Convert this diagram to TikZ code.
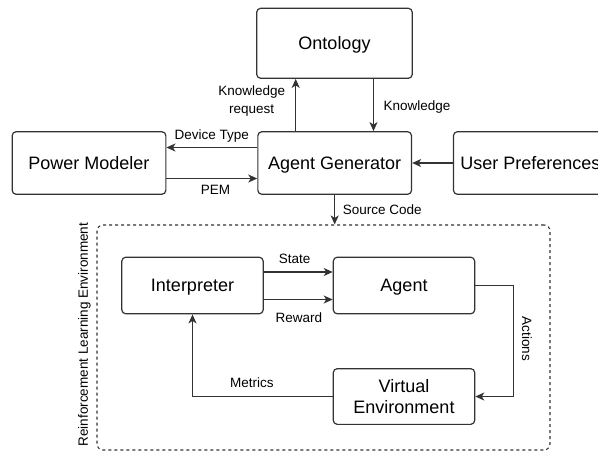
\documentclass[tikz,border=0pt]{standalone}
\usepackage{fontspec}
\setmainfont{Liberation Sans}
\usetikzlibrary{arrows.meta,calc}
\definecolor{linec}{HTML}{333333}
\begin{document}
\begin{tikzpicture}[x=1pt,y=-1pt,
  box/.style={draw=linec, line width=1.2pt, rounded corners=4pt, inner sep=0pt,
    font=\fontsize{18}{21.6}\selectfont, align=center, text=black},
  one/.style={text height=12.9pt, text depth=0pt},
  bigw/.style={minimum width=153.7pt, minimum height=62.6pt},
  smw/.style={minimum width=141.4pt, minimum height=56.6pt},
  lbl/.style={inner sep=0pt, font=\fontsize{13.5}{17.6}\selectfont, text height=9.7pt, text depth=0pt},
  lbltwo/.style={inner sep=0pt, font=\fontsize{13.5}{17.6}\selectfont, align=center},
  arr/.style={draw=linec, line width=1.2pt, -{Stealth[length=9pt,width=8pt,inset=2.5pt]}},
]
\useasboundingbox (0,0) rectangle (598,451);

% top nodes
\node[box, one, minimum width=155.6pt, minimum height=70pt] (onto) at (334.5,43.3) {Ontology};
\node[box, one, bigw] (pm) at (89,163) {Power Modeler};
\node[box, one, bigw] (ag) at (334.7,163) {Agent Generator};
\node[box, one, bigw] (up) at (530.3,163) {User Preferences};

% dashed container
\node[draw=linec, line width=1.1pt, dash pattern=on 3pt off 3pt, rounded corners=6pt,
  minimum width=453pt, minimum height=225pt, inner sep=0pt] (rle) at (323.5,337.5) {};

% inner nodes
\node[box, one, smw] (interp) at (192.5,285.5) {Interpreter};
\node[box, one, smw] (agent) at (404,285.5) {Agent};
\node[box, smw, minimum height=55.7pt] (venv) at (404,396.5) {Virtual\\Environment};

% connectors
\coordinate (kr) at ([xshift=-39pt]ag.north);
\draw[arr] (kr) -- (kr |- onto.south);
\coordinate (kn) at ([xshift=39pt]onto.south);
\draw[arr] (kn) -- (kn |- ag.north);
\coordinate (dt) at ([yshift=15.5pt]ag.west);
\draw[arr] (dt) -- (dt -| pm.east);
\coordinate (pe) at ([yshift=-15.5pt]pm.east);
\draw[arr] (pe) -- (pe -| ag.west);
\draw[arr] (up.west) -- (ag.east);
\draw[arr] (ag.south) -- (ag.south |- rle.north);
\coordinate (st) at ([yshift=13.5pt]interp.east);
\draw[arr] (st) -- (st -| agent.west);
\coordinate (rw) at ([yshift=-14pt]interp.east);
\draw[arr] (rw) -- (rw -| agent.west);
\draw[arr] (agent.east) -- ++(38,0) |- (venv.east);
\draw[arr] (venv.west) -| (interp.south);

% labels
\node[lbltwo, anchor=north] (lkr) at (251.7,85.7) {Knowledge\\request};
\node[lbl] (lkn) at (417,105.3) {Knowledge};
\node[lbl] (ldt) at (211.7,135) {Device Type};
\node[lbl] (lpem) at (215.5,190) {PEM};
\node[lbl] (lsc) at (382.2,209.3) {Source Code};
\node[lbl] (lst) at (294.7,258.3) {State};
\node[lbl] (lrw) at (299,318) {Reward};
\node[lbl] (lme) at (251.9,382.5) {Metrics};
\node[lbl, rotate=-90] (lac) at (527,339) {Actions};
\node[lbl, rotate=90] (lrl) at (83,334.5) {Reinforcement Learning Environment};
\end{tikzpicture}
\end{document}
